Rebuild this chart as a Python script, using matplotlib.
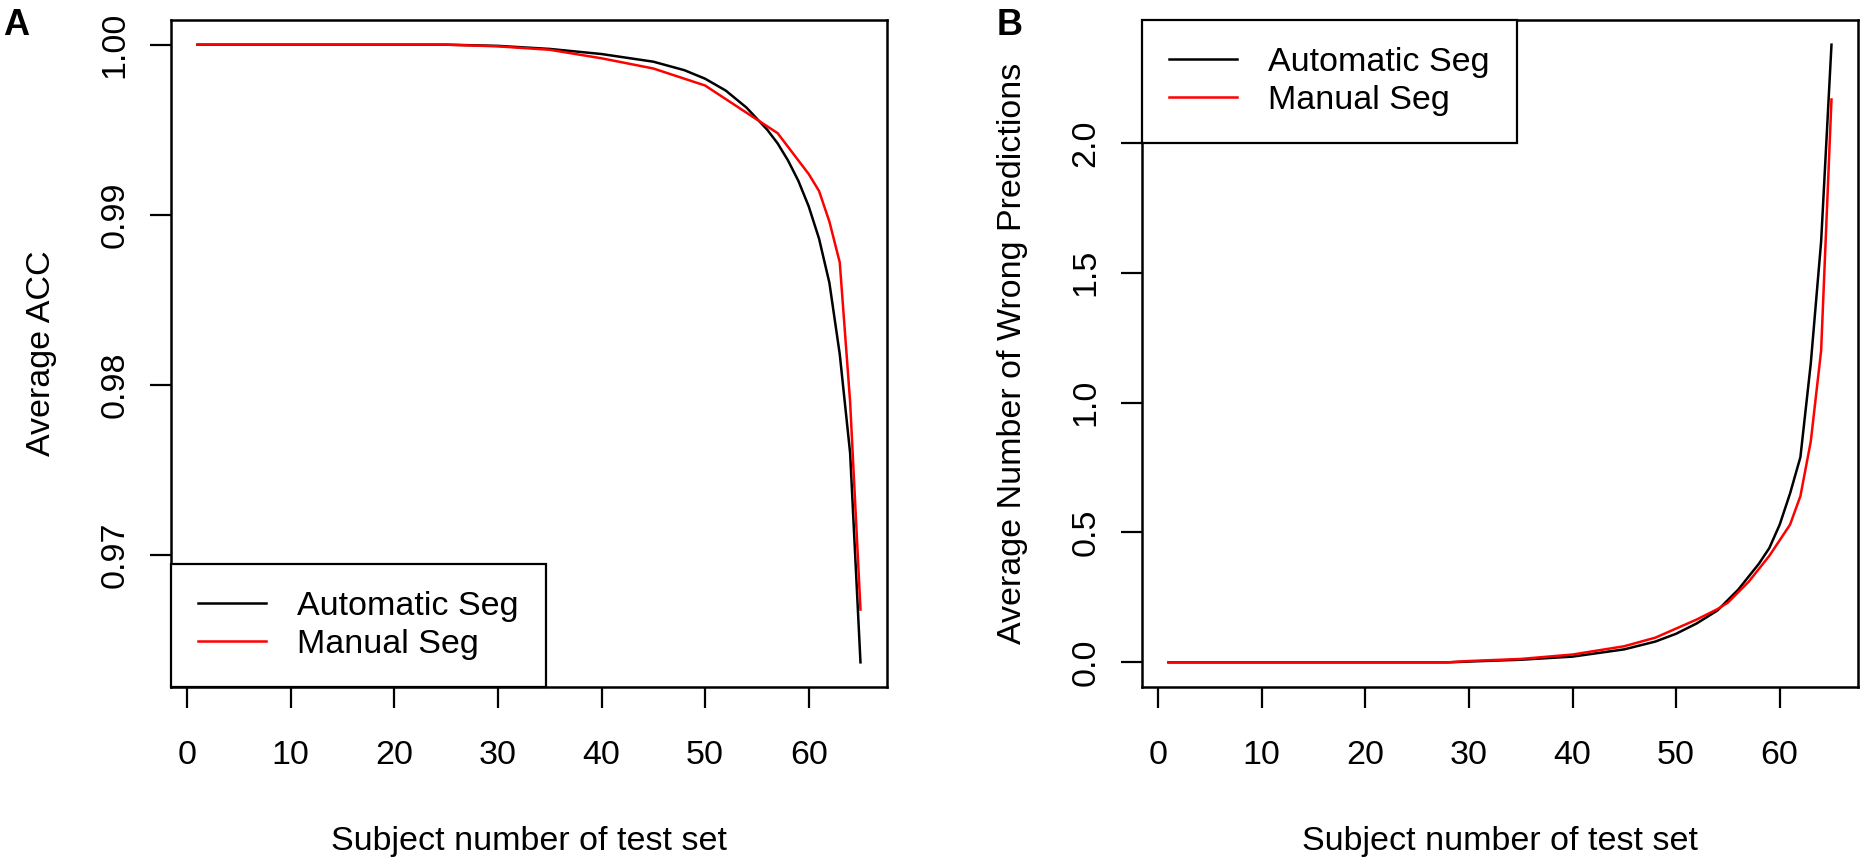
import matplotlib
matplotlib.use("Agg")
import matplotlib.pyplot as plt

plt.rcParams['font.family'] = ['Liberation Sans', 'DejaVu Sans']

# --- DATA ---
subjects = list(range(1, 66))

# Panel A: average ACC, read at a handful of subjects, flat at 1.0 before
acc_auto_pts = {1: 1.0, 25: 1.0, 30: 0.99993, 35: 0.99975, 40: 0.99945, 45: 0.9990,
                48: 0.9985, 50: 0.9980, 52: 0.9973, 54: 0.9963, 56: 0.9950, 57: 0.9942,
                58: 0.9932, 59: 0.9920, 60: 0.9905, 61: 0.9886, 62: 0.9860, 63: 0.9818,
                64: 0.9760, 65: 0.9637}
acc_manual_pts = {1: 1.0, 25: 1.0, 30: 0.9999, 35: 0.9997, 40: 0.9992, 45: 0.9986,
                  48: 0.9980, 50: 0.9976, 52: 0.9968, 54: 0.9960, 56: 0.9952, 57: 0.9948,
                  58: 0.9940, 59: 0.9932, 60: 0.9924, 61: 0.9914, 62: 0.9896, 63: 0.9872,
                  64: 0.9790, 65: 0.9668}

# Panel B: average number of wrong predictions
wrong_auto_pts = {1: 0.0, 28: 0.0, 30: 0.003, 35: 0.01, 40: 0.022, 45: 0.05, 48: 0.08,
                  50: 0.11, 52: 0.15, 54: 0.20, 55: 0.24, 56: 0.28, 57: 0.33, 58: 0.38,
                  59: 0.44, 60: 0.53, 61: 0.65, 62: 0.79, 63: 1.15, 64: 1.62, 65: 2.378}
wrong_manual_pts = {1: 0.0, 28: 0.0, 30: 0.005, 35: 0.013, 40: 0.03, 45: 0.062, 48: 0.095,
                    50: 0.13, 52: 0.165, 54: 0.205, 55: 0.23, 56: 0.27, 57: 0.31, 58: 0.36,
                    59: 0.41, 60: 0.47, 61: 0.53, 62: 0.64, 63: 0.85, 64: 1.20, 65: 2.167}

x_ticks = [0, 10, 20, 30, 40, 50, 60]
acc_ticks = [0.97, 0.98, 0.99, 1.00]
wrong_ticks = [0.0, 0.5, 1.0, 1.5, 2.0]
legend_labels = ["Automatic Seg", "Manual Seg"]


def series(pts):
    # straight segments between the points
    keys = sorted(pts)
    out = []
    for s in subjects:
        for a, b in zip(keys[:-1], keys[1:]):
            if a <= s <= b:
                t = (s - a) / (b - a)
                out.append(pts[a] + (pts[b] - pts[a]) * t)
                break
    return out


acc_auto = series(acc_auto_pts)
acc_manual = series(acc_manual_pts)
wrong_auto = series(wrong_auto_pts)
wrong_manual = series(wrong_manual_pts)

# --- FIGURE ---
W, H = 1873, 866
fig = plt.figure(figsize=(W / 100, H / 100), dpi=100, facecolor='white')
axA = fig.add_axes([171 / W, 1 - 687 / H, 716 / W, 667 / H])
axB = fig.add_axes([1142 / W, 1 - 687 / H, 716 / W, 667 / H])

FS = 24.5
LW = 1.8


def style(ax):
    for sp in ax.spines.values():
        sp.set_linewidth(1.8)
    ax.tick_params(length=15, width=1.6, labelsize=FS)
    ax.tick_params(axis='x', pad=23)
    ax.tick_params(axis='y', pad=14)
    ax.set_xlim(-1.56, 67.56)
    ax.set_xticks(x_ticks)
    for lab in ax.get_yticklabels():
        lab.set_rotation(90)
        lab.set_va('center')
    ax.set_xlabel("Subject number of test set", fontsize=FS, labelpad=40)


axA.plot(subjects, acc_auto, color='black', lw=LW, label=legend_labels[0])
axA.plot(subjects, acc_manual, color='red', lw=LW, label=legend_labels[1])
axA.set_ylim(0.96225, 1.00145)
axA.set_yticks(acc_ticks)
axA.set_yticklabels([f"{v:.2f}" for v in acc_ticks])
axA.set_ylabel("Average ACC", fontsize=FS, labelpad=31)
style(axA)

axB.plot(subjects, wrong_auto, color='black', lw=LW, label=legend_labels[0])
axB.plot(subjects, wrong_manual, color='red', lw=LW, label=legend_labels[1])
axB.set_ylim(-0.095, 2.473)
axB.set_yticks(wrong_ticks)
axB.set_yticklabels([f"{v:.1f}" for v in wrong_ticks])
axB.set_ylabel("Average Number of Wrong Predictions", fontsize=FS, labelpad=31)
style(axB)

for ax, loc in ((axA, 'lower left'), (axB, 'upper left')):
    leg = ax.legend(loc=loc, fontsize=FS, frameon=True, fancybox=False,
                    borderaxespad=0, handlelength=2.0, handletextpad=0.9,
                    borderpad=0.8, labelspacing=0.2)
    leg.get_frame().set_edgecolor('black')
    leg.get_frame().set_linewidth(1.6)
    leg.get_frame().set_alpha(1)

fig.text(3 / W, 1 - 8 / H, "A", fontsize=26, fontweight='bold', ha='left', va='top')
fig.text(997 / W, 1 - 8 / H, "B", fontsize=26, fontweight='bold', ha='left', va='top')

fig.savefig("out.png", dpi=100)
